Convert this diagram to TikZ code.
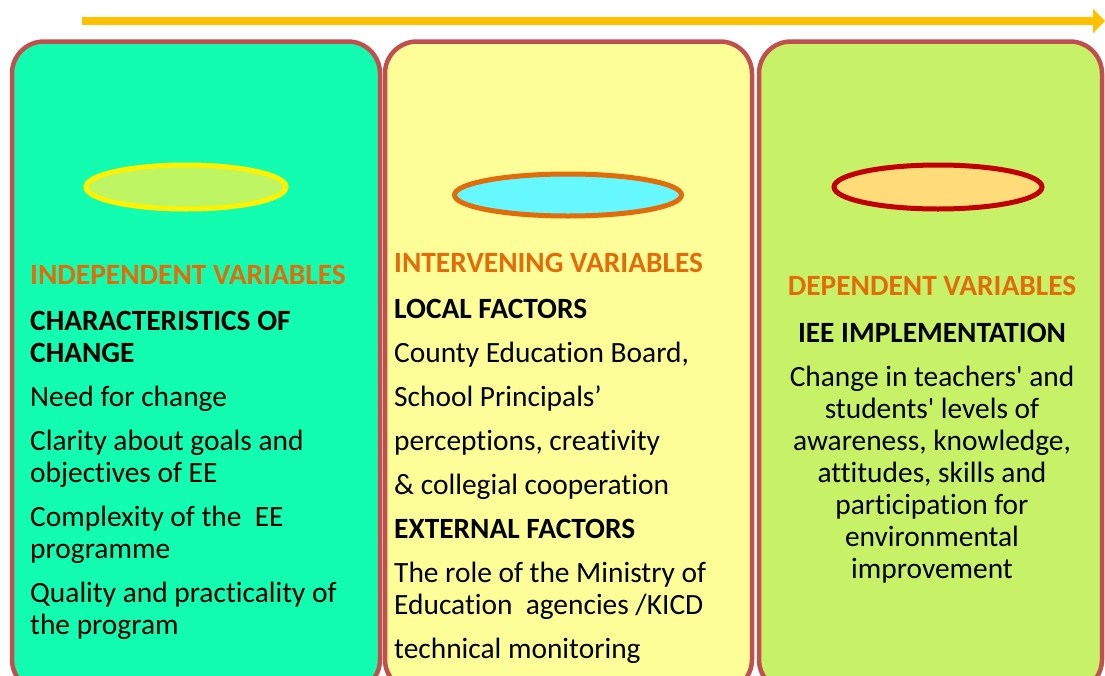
\documentclass[tikz,border=0pt]{standalone}
\usepackage{fontspec}
\setmainfont{Carlito}[Ligatures={TeXOff,NoCommon}]
\usetikzlibrary{shapes.geometric,arrows.meta}

\definecolor{flowgold}{HTML}{FFC000}
\definecolor{panelred}{HTML}{C0504D}
\definecolor{headorange}{HTML}{E36C0A}
\definecolor{indepfill}{HTML}{12FDAF}
\definecolor{intervfill}{HTML}{FEFE99}
\definecolor{depfill}{HTML}{C7F267}

\begin{document}
\begin{tikzpicture}[x=1pt,y=-1pt,
    panel/.style={draw=panelred, line width=4.5pt, rounded corners=32pt, inner sep=0pt, minimum height=650pt},
    disc/.style={ellipse, line width=5pt, inner sep=0pt},
    heading/.style={font=\fontsize{29.4}{32}\selectfont\bfseries, text=headorange, inner sep=0pt},
    body/.style={font=\fontsize{29.4}{32}\selectfont, inner sep=0pt}
]
    % Define page size
    \def\pagew{1105}
    \def\pageh{675}
    \useasboundingbox (0,0) rectangle (\pagew,\pageh);
    \clip (0,0) rectangle (\pagew,\pageh);

    % Draw the three panels
    \node[panel, fill=indepfill, minimum width=368pt] (indep) at (196,366.5) {};
    \node[panel, fill=intervfill, minimum width=367pt] (interv) at (568.5,366.5) {};
    \node[panel, fill=depfill, minimum width=343pt] (dep) at (930.5,366.5) {};

    % Draw the ovals
    \node[disc, draw=yellow, fill={rgb,255:red,190;green,245;blue,98}, minimum width=200pt, minimum height=44pt] (indepdisc) at (186,187) {};
    \node[disc, draw=headorange, fill={rgb,255:red,102;green,248;blue,255}, minimum width=227pt, minimum height=42pt] (intervdisc) at (568,195) {};
    \node[disc, draw={rgb,255:red,192;green,0;blue,0}, fill={rgb,255:red,255;green,220;blue,122}, minimum width=208pt, minimum height=44pt] (depdisc) at (938,187) {};

    % Flow arrow on top
    \coordinate (flowstart) at (82,21);
    \coordinate (flowend) at (1105,21);
    \draw[flowgold, line width=8pt, -{Triangle[length=12pt,width=24pt]}] (flowstart) -- (flowend);

    % Headings
    \node[heading, anchor=base west] (indephead) at (30,284) {INDEPENDENT VARIABLES};
    \node[heading, anchor=base west] (intervhead) at (394,272) {INTERVENING VARIABLES};
    \node[heading, anchor=base] (dephead) at (932,295) {DEPENDENT VARIABLES};

    % Column texts (anchored at the baseline of the last line)
    \node[body, align=left, anchor=base west] (indeptext) at (30,634) {%
        \textbf{CHARACTERISTICS OF}\\
        \textbf{CHANGE}\\[12pt]
        Need for change\\[12pt]
        Clarity about goals and\\
        objectives of EE\\[12pt]
        Complexity of the\ \ EE\\
        programme\\[12pt]
        Quality and practicality of\\
        the program};
    \node[body, align=left, anchor=base west] (intervtext) at (394,658) {%
        \textbf{LOCAL FACTORS}\\[12pt]
        County Education Board,\\[12pt]
        School Principals’\\[12pt]
        perceptions, creativity\\[12pt]
        \& collegial cooperation\\[12pt]
        \textbf{EXTERNAL FACTORS}\\[12pt]
        The role of the Ministry of\\
        Education\ \ agencies /KICD\\[12pt]
        technical monitoring};
    \node[body, align=center, anchor=base] (deptext) at (932,578) {%
        \textbf{IEE IMPLEMENTATION}\\[12pt]
        Change in teachers' and\\
        students' levels of\\
        awareness, knowledge,\\
        attitudes, skills and\\
        participation for\\
        environmental\\
        improvement};

\end{tikzpicture}
\end{document}
